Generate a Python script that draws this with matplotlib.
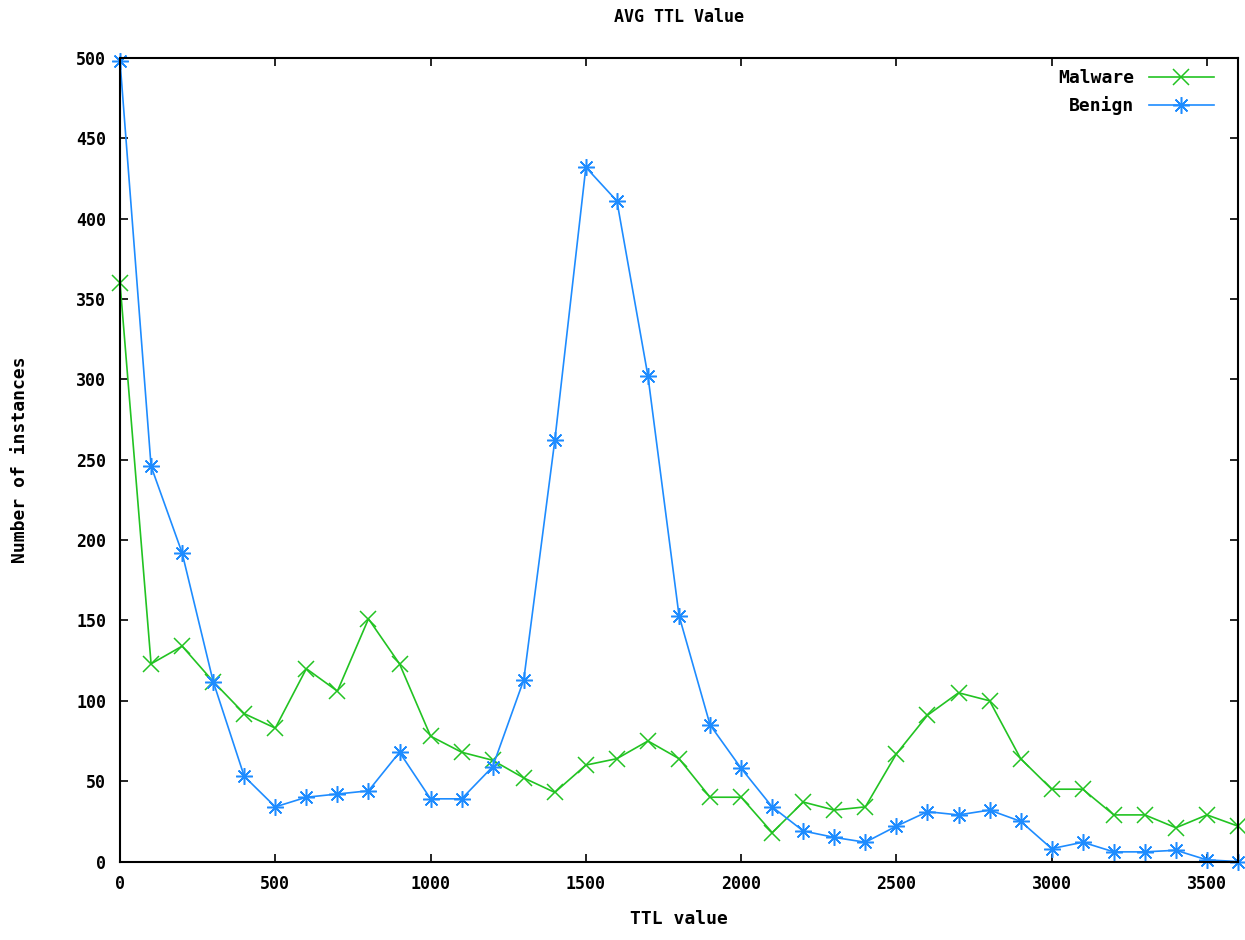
import matplotlib
matplotlib.use("Agg")
import matplotlib.pyplot as plt
import numpy as np

# TTL bins, step 100
ttl = np.arange(0, 3700, 100)

malware = [360, 123, 134, 112, 92, 83, 120, 106, 151, 123,
           78, 68, 63, 52, 43, 60, 64, 75, 64, 40,
           40, 18, 37, 32, 34, 67, 91, 105, 100, 64,
           45, 45, 29, 29, 21, 29, 22]
benign = [498, 246, 192, 112, 53, 34, 40, 42, 44, 68,
          39, 39, 59, 113, 262, 432, 411, 302, 153, 85,
          58, 34, 19, 15, 12, 22, 31, 29, 32, 25,
          8, 12, 6, 6, 7, 1, 0]

xticks = [0, 500, 1000, 1500, 2000, 2500, 3000, 3500]
yticks = [0, 50, 100, 150, 200, 250, 300, 350, 400, 450, 500]

plt.rcParams['font.family'] = ['DejaVu Sans Mono']
plt.rcParams['font.weight'] = 'bold'

fig = plt.figure(figsize=(12.45, 9.4), dpi=100)
ax = fig.add_axes([0.0964, 0.0835, 0.898, 0.8548])

ax.plot(ttl, malware, color='#22c322', lw=1.2, marker='x', ms=11, mew=1.1,
        label='Malware', clip_on=False)
ax.plot(ttl, benign, color='#1e8cff', lw=1.2, marker=(8, 2, 0), ms=12, mew=1.1,
        label='Benign', clip_on=False)

ax.set_xlim(0, 3600)
ax.set_ylim(0, 500)
ax.set_xticks(xticks)
ax.set_yticks(yticks)
ax.tick_params(direction='in', length=6, width=1.2, top=True, right=True,
               labelsize=12, pad=10)
for s in ax.spines.values():
    s.set_linewidth(1.5)

ax.set_title('AVG TTL Value', fontsize=12, fontweight='bold', pad=26)
ax.set_xlabel('TTL value', fontsize=13, fontweight='bold', labelpad=12)
ax.set_ylabel('Number of instances', fontsize=13, fontweight='bold', labelpad=34)

ax.legend(loc='upper right', bbox_to_anchor=(0.988, 1.0), frameon=False,
          markerfirst=False, fontsize=13, handlelength=3.6,
          borderaxespad=0.2, labelspacing=0.5)

plt.savefig('out.png', dpi=100)
